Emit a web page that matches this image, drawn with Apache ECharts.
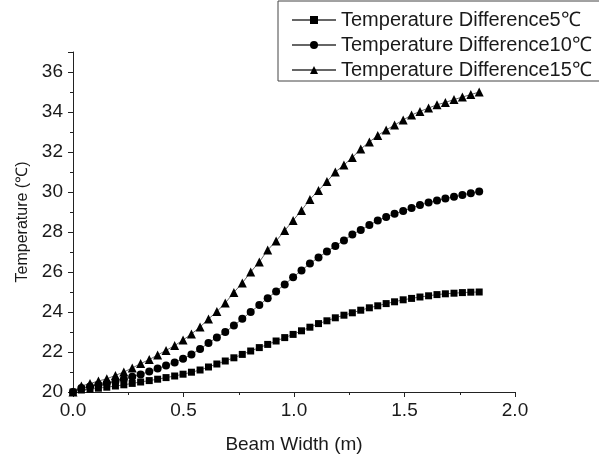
<!DOCTYPE html>
<html>
<head>
<meta charset="utf-8">
<script src="https://cdn.jsdelivr.net/npm/echarts@6/dist/echarts.min.js"></script>
<style>
  html, body { margin: 0; padding: 0; background: #fff; }
  #chart { width: 599px; height: 459px; }
</style>
</head>
<body>
<div id="chart"></div>
<script>
(function() {

var beamWidth = [0, 0.038, 0.077, 0.115, 0.153, 0.192, 0.230, 0.268, 0.306, 0.345,
    0.383, 0.421, 0.460, 0.498, 0.536, 0.575, 0.613, 0.651, 0.689, 0.728,
    0.766, 0.804, 0.843, 0.881, 0.919, 0.958, 0.996, 1.034, 1.072, 1.111,
    1.149, 1.187, 1.226, 1.264, 1.302, 1.341, 1.379, 1.417, 1.455, 1.494,
    1.532, 1.570, 1.609, 1.647, 1.685, 1.724, 1.762, 1.800, 1.838];

var diff5 = [20.0, 20.1, 20.14, 20.19, 20.24, 20.3, 20.36, 20.43, 20.5, 20.57,
    20.64, 20.72, 20.8, 20.89, 20.99, 21.1, 21.25, 21.4, 21.55, 21.71,
    21.88, 22.05, 22.22, 22.38, 22.55, 22.72, 22.88, 23.06, 23.24, 23.42,
    23.56, 23.71, 23.84, 23.96, 24.09, 24.21, 24.31, 24.42, 24.51, 24.61,
    24.68, 24.75, 24.81, 24.87, 24.91, 24.94, 24.97, 24.99, 25.0];

var diff10 = [20.0, 20.2, 20.28, 20.36, 20.44, 20.53, 20.64, 20.76, 20.88, 21.02,
    21.17, 21.32, 21.48, 21.66, 21.88, 22.15, 22.45, 22.73, 23.0, 23.32,
    23.66, 24.0, 24.35, 24.69, 25.03, 25.38, 25.74, 26.08, 26.42, 26.73,
    27.02, 27.3, 27.58, 27.88, 28.1, 28.35, 28.57, 28.75, 28.91, 29.05,
    29.2, 29.35, 29.47, 29.57, 29.67, 29.76, 29.85, 29.94, 30.02];

var diff15 = [20.0, 20.3, 20.42, 20.55, 20.66, 20.83, 21.0, 21.2, 21.42, 21.62,
    21.85, 22.08, 22.32, 22.6, 22.9, 23.25, 23.65, 24.02, 24.45, 24.98,
    25.45, 26.0, 26.5, 27.1, 27.55, 28.07, 28.58, 29.08, 29.63, 30.08,
    30.52, 31.0, 31.35, 31.73, 32.15, 32.5, 32.83, 33.1, 33.35, 33.6,
    33.85, 34.03, 34.2, 34.36, 34.48, 34.62, 34.75, 34.87, 35.0];

var seriesNames = ['Temperature Difference5℃', 'Temperature Difference10℃', 'Temperature Difference15℃'];
var seriesSymbols = ['rect', 'circle', 'triangle'];
var seriesSizes = [7, 8, 9];
var seriesValues = [diff5, diff10, diff15];

var fontFamily = '"Liberation Sans", Arial, sans-serif';
var textColor = '#1a1a1a';

var myChart = echarts.init(document.getElementById('chart'), null, {
    renderer: 'canvas'
});

function pairs(ys) {
    return beamWidth.map(function (x, i) {
        return [x, ys[i]];
    });
}

var option = {
    animation: false,
    backgroundColor: '#fff',
    textStyle: { fontFamily: fontFamily, color: textColor },
    grid: { left: 73, right: 84, top: 52, bottom: 67 },
    legend: {
        orient: 'vertical',
        left: 278,
        top: 1,
        padding: [9, 30, 1, 13],
        itemGap: 5,
        itemWidth: 44,
        itemHeight: 10,
        borderColor: '#444',
        borderWidth: 1,
        borderRadius: 0,
        textStyle: { fontFamily: fontFamily, fontSize: 20, color: textColor },
        data: seriesNames
    },
    xAxis: {
        type: 'value',
        min: 0,
        max: 2,
        interval: 0.5,
        name: 'Beam Width (m)',
        nameLocation: 'middle',
        nameGap: 43,
        nameTextStyle: { fontFamily: fontFamily, fontSize: 19, color: textColor },
        axisLine: { show: true, lineStyle: { color: '#222', width: 1 } },
        axisTick: { show: true, length: 5, lineStyle: { color: '#222' } },
        minorTick: { show: true, splitNumber: 2, length: 3, lineStyle: { color: '#222' } },
        splitLine: { show: false },
        axisLabel: {
            margin: 9,
            fontSize: 19,
            color: textColor,
            formatter: function (v) { return v.toFixed(1); }
        }
    },
    yAxis: {
        type: 'value',
        min: 20,
        max: 37,
        interval: 2,
        name: 'Temperature (℃)',
        nameLocation: 'middle',
        nameGap: 42,
        nameTextStyle: { fontFamily: fontFamily, fontSize: 16, color: textColor },
        axisLine: { show: true, lineStyle: { color: '#222', width: 1 } },
        axisTick: { show: true, length: 5, lineStyle: { color: '#222' } },
        minorTick: { show: true, splitNumber: 2, length: 3, lineStyle: { color: '#222' } },
        splitLine: { show: false },
        axisLabel: {
            margin: 10,
            fontSize: 19,
            color: textColor,
            formatter: function (v) { return v > 36 ? '' : String(v); }
        }
    },
    series: seriesNames.map(function (name, k) {
        return {
            name: name,
            type: 'line',
            data: pairs(seriesValues[k]),
            symbol: seriesSymbols[k],
            symbolSize: seriesSizes[k],
            showAllSymbol: true,
            itemStyle: { color: '#000' },
            lineStyle: { color: '#666', width: 1 }
        };
    })
};

myChart.setOption(option);

window.addEventListener('resize', myChart.resize);
})();
</script>
</body>
</html>
